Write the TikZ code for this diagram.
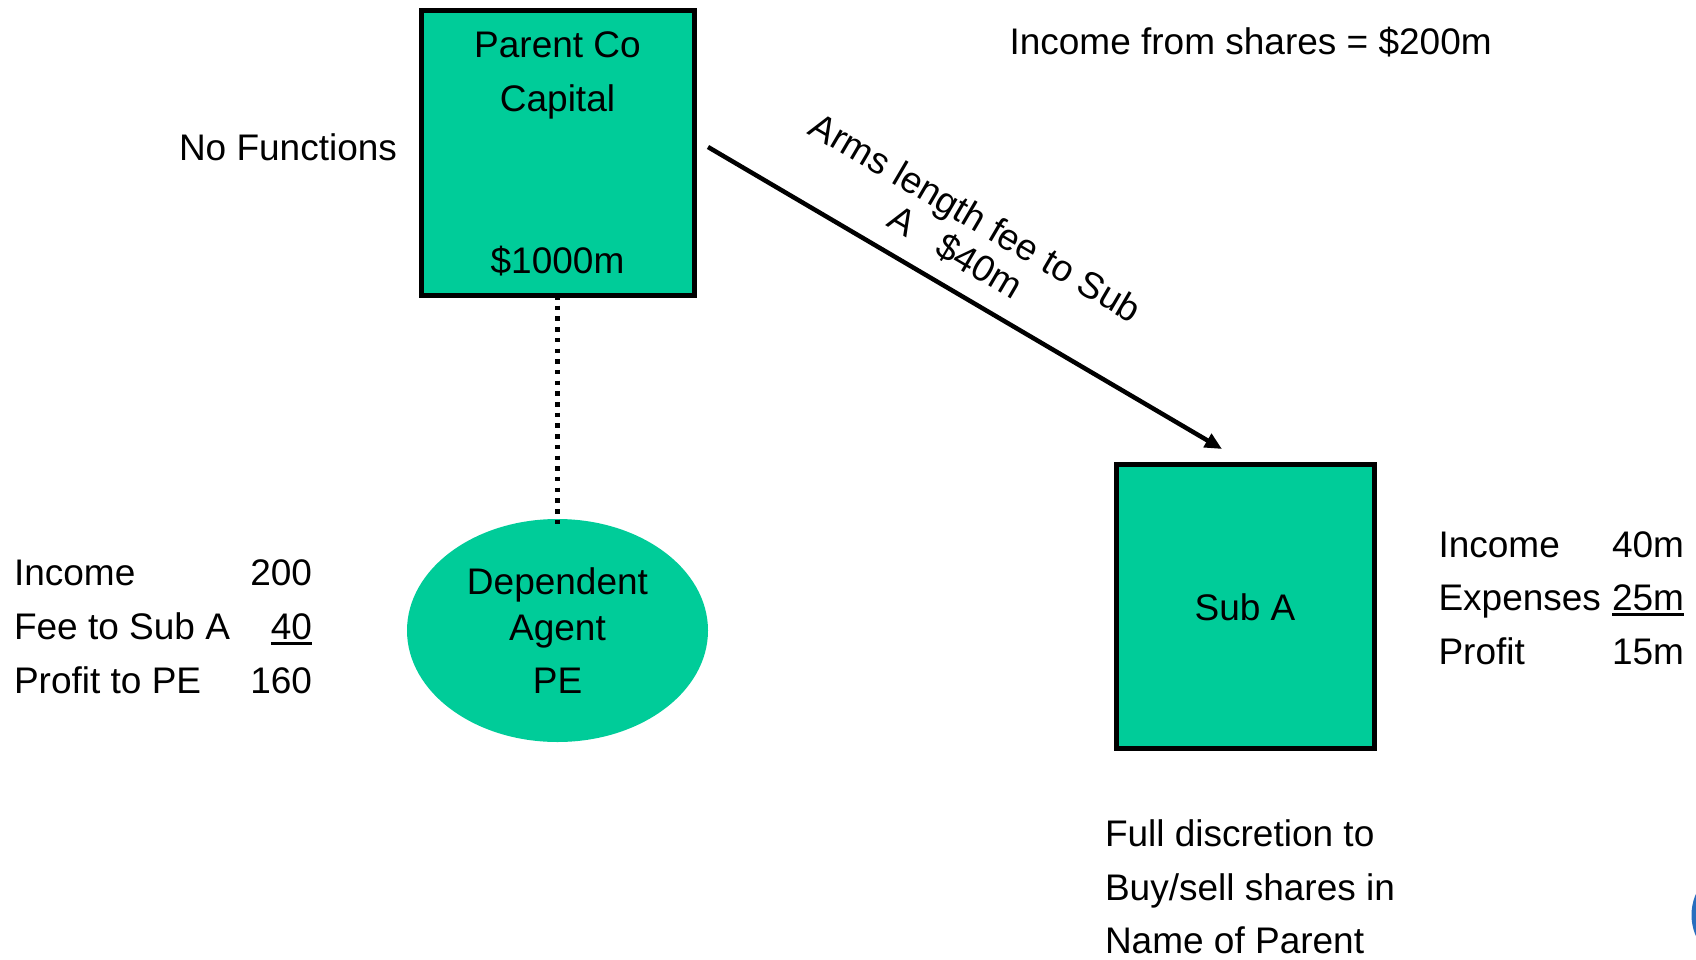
\documentclass[tikz,border=0pt]{standalone}
\usepackage{fontspec}
\setmainfont{Liberation Sans}
\usetikzlibrary{arrows.meta,shapes.geometric}
\definecolor{boxgreen}{RGB}{0,204,153}
\definecolor{logoblue}{RGB}{40,110,190}
% underlined figure with a rule placed just below the baseline
\newcommand\ulnum[1]{\setbox0\hbox{#1}\rlap{\raisebox{-5.5pt}{\rule{\wd0}{2.5pt}}}\box0}

\begin{document}
\begin{tikzpicture}[x=1pt,y=-1pt,
  every node/.style={font=\fontsize{37}{44}\selectfont, inner sep=0pt, outer sep=0pt},
  entity/.style={draw=black, line width=5pt, fill=boxgreen, rectangle},
  agentshape/.style={ellipse, fill=boxgreen},
  lbl/.style={anchor=base},
  lft/.style={anchor=base west},
  rgt/.style={anchor=base east},
  feeline/.style={line width=4.5pt, -{Triangle[length=17pt,width=15pt]}},
  linkline/.style={line width=4.5pt, dash pattern=on 4.5pt off 6.2pt},
  feelabel/.style={anchor=base, rotate=-30.4, align=center, font=\fontsize{37}{40}\selectfont},
]
\useasboundingbox (0,0) rectangle (1696,960);
\clip (0,0) rectangle (1696,960);

% partial logo at the right edge
\draw[logoblue, line width=5pt] (1734,915) ellipse (40pt and 45pt);

% Parent company
\node[entity, minimum width=273pt, minimum height=284.5pt] (parent) at (557.5,152.75) {};
\node[lbl] (pname) at (557.5,58) {Parent Co};
\node[lbl] (pcap) at (557.5,112) {Capital};
\node[lbl] (pamt) at (557.5,273) {\$1000m};

% Dependent agent (PE)
\node[agentshape, minimum width=301pt, minimum height=223pt] (agent) at (557.5,630.5) {};
\node[lbl] (ag1) at (557.5,594) {Dependent};
\node[lbl] (ag2) at (557.5,640) {Agent};
\node[lbl] (ag3) at (557.5,693) {PE};

% Subsidiary
\node[entity, minimum width=258pt, minimum height=284pt] (suba) at (1245.5,606.5) {};
\node[lbl] (subname) at (1245,620) {Sub A};

% connectors
\draw[linkline] (parent.south) -- ([yshift=-6pt]agent.north);
\coordinate (feestart) at (708,147);
\coordinate (feeend) at (1222,449);
\draw[feeline] (feestart) -- (feeend);
% the base anchor of this two-line label sits on its last line
\node[feelabel] (fee) at (949,263) {Arms length fee to Sub\\A\ \ \ \$40m};

% free texts
\node[lft] (nofunc) at (179,161) {No Functions};
\node[lft] (shares) at (1009.5,55) {Income from shares = \$200m};

% PE account
\node[lft] (pe1) at (14,585) {Income};
\node[rgt] (pev1) at (312,585) {200};
\node[lft] (pe2) at (14,639) {Fee to Sub A};
\node[rgt] (pev2) at (312,639) {\ulnum{40}};
\node[lft] (pe3) at (14,693) {Profit to PE};
\node[rgt] (pev3) at (312,693) {160};

% Sub A account
\node[lft] (sa1) at (1438.5,557) {Income};
\node[lft] (sav1) at (1612,557) {40m};
\node[lft] (sa2) at (1438.5,610) {Expenses};
\node[lft] (sav2) at (1612,610) {\ulnum{25m}};
\node[lft] (sa3) at (1438.5,664) {Profit};
\node[lft] (sav3) at (1612,664) {15m};

% Sub A discretion note
\node[lft] (note1) at (1105,846) {Full discretion to};
\node[lft] (note2) at (1105,900) {Buy/sell shares in};
\node[lft] (note3) at (1105,953) {Name of Parent};
\end{tikzpicture}
\end{document}
